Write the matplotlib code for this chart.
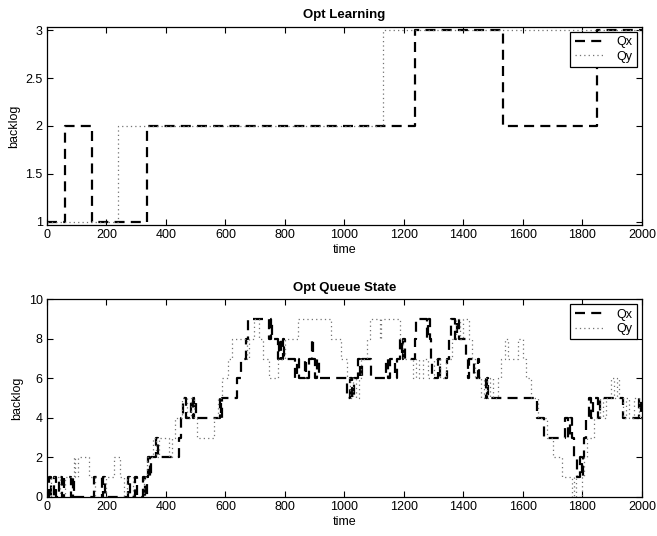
import matplotlib
matplotlib.use("Agg")
import matplotlib.pyplot as plt
import numpy as np

plt.rcParams['font.family'] = ['Liberation Sans', 'DejaVu Sans']

T_END = 2000

# ---- Opt Learning (top) ----
learn_qx_t = [0, 62, 153, 336, 1236, 1532, 1848]
learn_qx_v = [1, 2, 1, 2, 3, 2, 3]
learn_qy_t = [0, 238, 1131]
learn_qy_v = [1, 2, 3]

# ---- Opt Queue State (bottom) ----
queue_qx_t = [0, 6, 14, 22, 30, 42, 50, 56, 80, 86, 92, 158, 185, 190, 196,
              272, 280, 295, 302, 322, 328, 335, 340, 345, 350, 368, 374, 445,
              452, 458, 466, 484, 490, 495, 500, 580, 585, 590, 638, 652, 670,
              676, 748, 752, 756, 776, 780, 786, 792, 798, 834, 840, 846, 866,
              872, 880, 890, 896, 902, 908, 914, 1010, 1020, 1026, 1032, 1045,
              1052, 1060, 1090, 1140, 1148, 1152, 1170, 1176, 1186, 1192, 1196,
              1202, 1236, 1240, 1276, 1282, 1286, 1290, 1294, 1316, 1322, 1344,
              1350, 1358, 1372, 1380, 1386, 1408, 1414, 1420, 1436, 1448, 1454,
              1476, 1480, 1484, 1648, 1672, 1740, 1752, 1760, 1764, 1772, 1782,
              1792, 1798, 1802, 1806, 1812, 1822, 1830, 1836, 1852, 1858, 1935,
              1990, 1996]
queue_qx_v = [0, 1, 0, 1, 0, 1, 0, 1, 0, 1, 0, 1, 0, 1, 0,
              1, 0, 1, 0, 1, 0, 1, 2, 1, 2, 3, 2, 3,
              4, 5, 4, 5, 4, 5, 4, 5, 4, 5, 6, 7, 8,
              9, 8, 9, 8, 7, 8, 7, 8, 7, 6, 7, 6, 7,
              6, 7, 8, 7, 6, 7, 6, 5, 6, 5, 6, 7,
              6, 7, 6, 7, 6, 7, 6, 7, 8, 7, 8,
              7, 8, 9, 8, 9, 8, 7, 6, 7, 6, 7,
              8, 9, 8, 9, 8, 7, 6, 7, 6, 7, 6,
              5, 6, 5, 4, 3, 4, 3, 4, 3, 2, 1,
              2, 1, 2, 3, 4, 5, 4, 5, 4, 5, 4,
              5, 4]

queue_qy_t = [0, 12, 45, 60, 90, 95, 105, 140, 160, 200, 225, 245, 260, 270,
              290, 325, 335, 355, 365, 375, 410, 420, 430, 455, 470, 485, 495,
              505, 560, 575, 590, 608, 622, 672, 680, 695, 712, 725, 745, 775,
              800, 845, 955, 990, 1008, 1020, 1030, 1040, 1050, 1055, 1075,
              1085, 1118, 1124, 1186, 1196, 1230, 1240, 1250, 1265, 1280, 1300,
              1320, 1340, 1360, 1375, 1390, 1400, 1420, 1430, 1440, 1460, 1470,
              1480, 1490, 1500, 1515, 1528, 1540, 1550, 1585, 1600, 1612, 1628,
              1650, 1680, 1700, 1730, 1765, 1772, 1778, 1798, 1806, 1816, 1838,
              1860, 1870, 1880, 1895, 1905, 1915, 1922, 1935, 1945, 1955, 1975,
              1990]
queue_qy_v = [0, 1, 0, 1, 2, 1, 2, 1, 0, 1, 2, 1, 0, 1,
              0, 1, 2, 3, 2, 3, 2, 3, 4, 5, 4, 5, 4,
              3, 4, 5, 6, 7, 8, 7, 8, 9, 8, 7, 6, 7,
              8, 9, 8, 7, 6, 5, 6, 5, 6, 7, 8,
              9, 8, 9, 8, 7, 6, 7, 6, 7, 6, 7,
              6, 7, 8, 9, 8, 9, 8, 7, 6, 5, 6,
              5, 6, 5, 6, 7, 8, 7, 8, 7, 6, 5,
              4, 3, 2, 1, 0, 1, 0, 1, 2, 3, 4,
              5, 4, 5, 6, 5, 6, 5, 4, 5, 4, 5,
              4]


def stairs(ax, t, v, **kw):
    tt = list(t) + [T_END]
    vv = list(v) + [v[-1]]
    return ax.step(tt, vv, where='post', **kw)


fig = plt.figure(figsize=(6.57, 5.36), dpi=100)
ax1 = fig.add_axes([0.0715, 0.580, 0.9055, 0.370])
ax2 = fig.add_axes([0.0715, 0.0728, 0.9055, 0.369])

qx_style = dict(color='black', linewidth=1.6, linestyle=(0, (4.5, 2.8)))
qy_style = dict(color='0.45', linewidth=0.9, linestyle=(0, (1, 2.5)))

for ax, (xt, xv, yt, yv) in [
        (ax1, (learn_qx_t, learn_qx_v, learn_qy_t, learn_qy_v)),
        (ax2, (queue_qx_t, queue_qx_v, queue_qy_t, queue_qy_v))]:
    stairs(ax, xt, xv, label='Qx', **qx_style)
    stairs(ax, yt, yv, label='Qy', **qy_style)
    ax.set_xlim(0, 2000)
    ax.set_xticks(np.arange(0, 2001, 200))
    ax.tick_params(direction='in', top=True, right=True, length=4,
                   width=0.8, labelsize=9, pad=3)
    for s in ax.spines.values():
        s.set_linewidth(0.9)
    ax.set_xlabel('time', fontsize=9, labelpad=2)
    ax.set_ylabel('backlog', fontsize=9, labelpad=4)
    leg = ax.legend(loc='upper right', fontsize=9, frameon=True, fancybox=False,
                    edgecolor='black', framealpha=1, handlelength=2.45,
                    borderaxespad=0.4, borderpad=0.35, labelspacing=0.2,
                    handletextpad=0.9)
    leg.get_frame().set_linewidth(0.9)

ax1.set_ylim(0.965, 3.035)
ax1.set_yticks([1, 1.5, 2, 2.5, 3])
ax1.set_yticklabels(['1', '1.5', '2', '2.5', '3'])
ax1.set_title('Opt Learning', fontsize=9.5, fontweight='bold', pad=6)

ax2.set_ylim(0, 10)
ax2.set_yticks(np.arange(0, 11, 2))
ax2.set_title('Opt Queue State', fontsize=9.5, fontweight='bold', pad=6)

fig.savefig('out.png', dpi=100)
